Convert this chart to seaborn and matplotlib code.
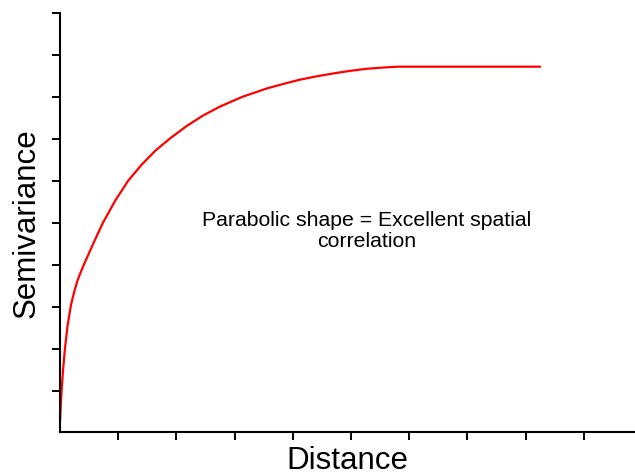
import numpy as np
import pandas as pd
import matplotlib
matplotlib.use("Agg")
import matplotlib.pyplot as plt
import seaborn as sns

# Curve (x and y in tick units)
distance = [0.0, 0.01, 0.025, 0.05, 0.085, 0.13, 0.19, 0.245, 0.30, 0.355,
            0.41, 0.57, 0.73, 0.95, 1.17, 1.40, 1.64, 1.90, 2.17, 2.45,
            2.75, 3.13, 3.55, 3.84, 4.12, 4.41, 4.70, 4.98, 5.27, 5.555,
            5.80, 6.00, 8.25]
semivar = [0.25, 0.55, 0.95, 1.45, 2.00, 2.55, 3.05, 3.36, 3.62, 3.82,
           4.00, 4.50, 4.98, 5.53, 6.00, 6.38, 6.72, 7.02, 7.30, 7.55,
           7.77, 8.00, 8.20, 8.31, 8.41, 8.49, 8.56, 8.62, 8.67, 8.70,
           8.72, 8.72, 8.72]
x_ticks = [1, 2, 3, 4, 5, 6, 7, 8, 9]
y_ticks = [1, 2, 3, 4, 5, 6, 7, 8, 9, 10]

df = pd.DataFrame({"Distance": distance, "Semivariance": semivar})

sns.set_theme(style="ticks")
plt.rcParams["font.family"] = ["Liberation Sans", "DejaVu Sans"]

fig = plt.figure(figsize=(6.35, 4.76), dpi=100)
ax = fig.add_axes([0.0945, 0.0914, 0.9055, 0.8813])

sns.lineplot(data=df, x="Distance", y="Semivariance", color="#ff0000",
             linewidth=1.6, ax=ax, sort=False)

ax.set_xlim(0, 9.88)
ax.set_ylim(0, 10)
ax.set_xticks(x_ticks)
ax.set_yticks(y_ticks)
ax.set_xticklabels([])
ax.set_yticklabels([])
ax.tick_params(axis="both", direction="out", length=5.5, width=1.4, color="black")

for side in ["top", "right"]:
    ax.spines[side].set_visible(False)
for side in ["left", "bottom"]:
    ax.spines[side].set_linewidth(1.5)
    ax.spines[side].set_color("black")

ax.set_xlabel("Distance", fontsize=22.5, color="black", labelpad=1)
ax.set_ylabel("Semivariance", fontsize=22.5, color="black", labelpad=4)

ax.text(5.27, 4.80, "Parabolic shape = Excellent spatial\ncorrelation",
        ha="center", va="center", fontsize=15.3, color="black",
        linespacing=1.15)

fig.savefig("out.png", dpi=100)
